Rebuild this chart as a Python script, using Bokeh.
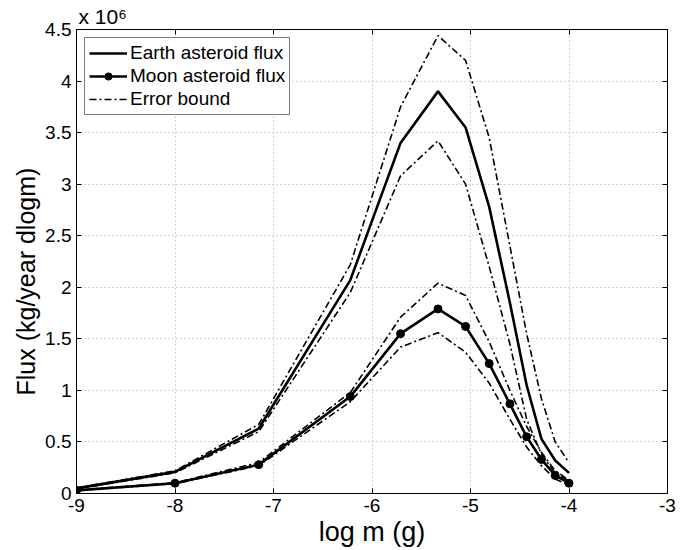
from bokeh.plotting import figure
from bokeh.models import (Legend, LegendItem, FixedTicker, LinearAxis, Title, Range1d)
from bokeh.embed import file_html
from bokeh.resources import INLINE

# ---- data (flux in units of 1e6 kg/year dlogm) ----
log_m = [-9.0, -8.0, -7.15, -6.22, -5.71, -5.33, -5.05, -4.81, -4.6, -4.43, -4.28, -4.14, -4.0]
earth = [0.05, 0.21, 0.63, 2.07, 3.40, 3.90, 3.55, 2.78, 1.85, 1.05, 0.53, 0.32, 0.20]
earth_hi = [0.055, 0.22, 0.67, 2.22, 3.75, 4.44, 4.20, 3.45, 2.40, 1.55, 0.92, 0.50, 0.30]
earth_lo = [0.045, 0.20, 0.60, 1.95, 3.08, 3.42, 3.00, 2.20, 1.45, 0.72, 0.38, 0.20, 0.12]
moon = [0.03, 0.10, 0.28, 0.94, 1.55, 1.79, 1.62, 1.26, 0.87, 0.55, 0.33, 0.175, 0.10]
moon_hi = [0.032, 0.105, 0.30, 0.98, 1.71, 2.04, 1.92, 1.47, 1.00, 0.65, 0.40, 0.22, 0.13]
moon_lo = [0.028, 0.095, 0.27, 0.89, 1.42, 1.56, 1.37, 1.07, 0.72, 0.45, 0.27, 0.14, 0.08]

x_ticks = [-9, -8, -7, -6, -5, -4, -3]
y_ticks = [0, 0.5, 1, 1.5, 2, 2.5, 3, 3.5, 4, 4.5]
y_tick_labels = ["0", "0.5", "1", "1.5", "2", "2.5", "3", "3.5", "4", "4.5"]

FONT = "Liberation Sans"

p = figure(width=689, height=550, output_backend="svg", toolbar_location=None,
           x_range=Range1d(-9, -3), y_range=Range1d(0, 4.5),
           min_border_left=76, min_border_right=22, min_border_top=29, min_border_bottom=57)
p.outline_line_color = "black"
p.outline_line_width = 1
p.background_fill_color = "white"

# grid
for g in (p.xgrid, p.ygrid):
    g.grid_line_color = "#a8a8a8"
    g.grid_line_dash = "1 3"
    g.grid_line_width = 1
p.xgrid.ticker = FixedTicker(ticks=x_ticks)
p.ygrid.ticker = FixedTicker(ticks=y_ticks)

# axes
p.xaxis.ticker = FixedTicker(ticks=x_ticks)
p.yaxis.ticker = FixedTicker(ticks=y_ticks)
p.yaxis.major_label_overrides = {t: l for t, l in zip(y_ticks, y_tick_labels)}
p.xaxis.major_label_overrides = {t: str(t) for t in x_ticks}
for ax in (p.xaxis[0], p.yaxis[0]):
    ax.axis_line_color = "black"
    ax.major_tick_in = 5
    ax.major_tick_out = 0
    ax.minor_tick_line_color = None
    ax.major_label_text_font = FONT
    ax.major_label_text_font_size = "19px"
    ax.major_label_text_color = "black"
    ax.axis_label_text_font = FONT
    ax.axis_label_text_font_style = "normal"
    ax.axis_label_text_color = "black"
p.xaxis.axis_label_text_font_size = "27px"
p.xaxis.axis_label = "log m (g)"
p.xaxis.major_label_standoff = 5
p.yaxis.major_label_standoff = 5
p.xaxis.axis_label_standoff = 2

# y-axis title drawn as a side title so its position along the axis can be set
p.add_layout(Title(text="Flux (kg/year dlogm)", align="left", offset=98, standoff=5,
                   text_font=FONT, text_font_size="25px", text_font_style="normal",
                   text_color="black"), "left")

# mirror axes (top/right) with inward ticks and no labels
top = LinearAxis(ticker=FixedTicker(ticks=x_ticks),
                 major_label_overrides={t: "" for t in x_ticks},
                 major_tick_in=5, major_tick_out=0, minor_tick_line_color=None,
                 axis_line_color="black", major_label_standoff=0)
right = LinearAxis(ticker=FixedTicker(ticks=y_ticks),
                   major_label_overrides={t: "" for t in y_ticks},
                   major_tick_in=5, major_tick_out=0, minor_tick_line_color=None,
                   axis_line_color="black", major_label_standoff=0)
p.add_layout(top, "above")
p.add_layout(right, "right")

# exponent "x 10^6" above the y axis
p.add_layout(Title(text="x 10\u2076", align="left", offset=2, standoff=3,
                   text_font=FONT, text_font_size="21px", text_font_style="normal",
                   text_color="black"), "above")

dd = "7 3 2 3"
# error bounds
eh = p.line(log_m, earth_hi, line_color="black", line_width=1.6, line_dash=dd)
p.line(log_m, earth_lo, line_color="black", line_width=1.6, line_dash=dd)
p.line(log_m, moon_hi, line_color="black", line_width=1.6, line_dash=dd)
p.line(log_m, moon_lo, line_color="black", line_width=1.6, line_dash=dd)
# main curves
el = p.line(log_m, earth, line_color="black", line_width=2.6)
ml = p.line(log_m, moon, line_color="black", line_width=2.6)
ms = p.scatter(log_m, moon, marker="circle", size=8, fill_color="black", line_color="black")

legend = Legend(items=[
    LegendItem(label="Earth asteroid flux", renderers=[el]),
    LegendItem(label="Moon asteroid flux", renderers=[ml, ms]),
    LegendItem(label="Error bound", renderers=[eh]),
], location="top_left")
legend.label_text_font = FONT
legend.label_text_font_size = "19px"
legend.label_text_color = "black"
legend.border_line_color = "black"
legend.border_line_width = 1
legend.glyph_width = 38
legend.glyph_height = 18
legend.label_height = 18
legend.spacing = 1
legend.padding = 4
legend.margin = 8
legend.label_standoff = 3
legend.background_fill_alpha = 1
p.add_layout(legend)

open("out.html", "w").write(file_html(p, INLINE))
